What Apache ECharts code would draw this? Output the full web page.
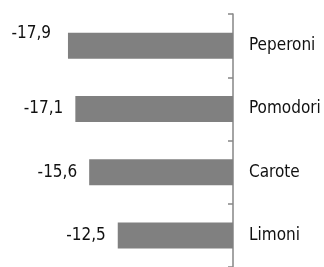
<!DOCTYPE html>
<html>
<head>
<meta charset="utf-8">
<script src="https://cdn.jsdelivr.net/npm/echarts@6/dist/echarts.min.js"></script>
<style>
    html, body {margin: 0; padding: 0; background: #fff;}
    #chart1 {width: 324px; height: 267px;}
</style>
</head>
<body>
<div id="chart1"></div>
<script>
var categorie = ['Peperoni', 'Pomodori', 'Carote', 'Limoni'];   // categorie
var valori = [-17.9, -17.1, -15.6, -12.5];                        // valori
var etichette = ['-17,9', '-17,1', '-15,6', '-12,5'];             // etichette dei valori

var fontTesto = 'Tahoma, "DejaVu Sans Condensed", "DejaVu Sans", sans-serif';

window.onload = function () {
    myChart1Init();
}

function myChart1Init() {
    var myChart1 = echarts.init(document.getElementById('chart1'));

    var dati = [];
    for (var i = 0; i < valori.length; i++) {
        var d = {value: valori[i]};
        if (i == 0) {
            // l'etichetta del primo valore sta un po' piu' in alto
            d.label = {offset: [-5, -12]};
        }
        dati.push(d);
    }

    var option1 = {
        animation: false,
        grid: {
            left: 48.6,
            right: 91,
            top: 14,
            bottom: -6
        },
        xAxis: {
            type: 'value',
            min: -20,
            max: 0,
            show: false
        },
        yAxis: {
            type: 'category',
            data: categorie,
            position: 'right',
            inverse: true,
            axisLine: {
                show: true,
                lineStyle: {color: '#868686', width: 1.5}
            },
            axisTick: {
                show: true,
                inside: true,
                length: 5,
                lineStyle: {color: '#868686', width: 1.5}
            },
            axisLabel: {
                margin: 16,
                color: '#111',
                fontSize: 17,
                fontFamily: fontTesto
            },
            splitLine: {show: false}
        },
        series: [
            {
                type: 'bar',
                data: dati,
                barWidth: 26,
                itemStyle: {color: '#808080'},
                label: {
                    show: true,
                    position: 'left',
                    distance: 12,
                    color: '#111',
                    fontSize: 17,
                    fontFamily: fontTesto,
                    formatter: function (p) {
                        return etichette[p.dataIndex];
                    }
                }
            }
        ]
    };

    myChart1.setOption(option1);
}
</script>
</body>
</html>
